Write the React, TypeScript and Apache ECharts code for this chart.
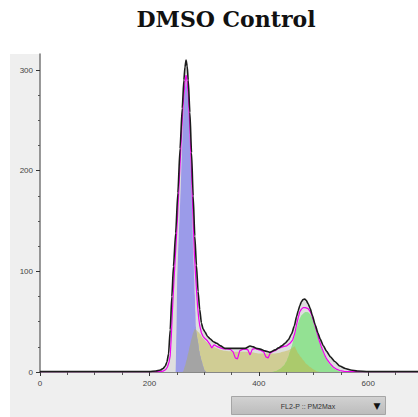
import React, { useEffect, useRef } from "react";
import * as echarts from "echarts";

// ---- data (channel, count) ----
const totalCounts: number[][] = [
  [0, 0.5], [200, 0.5], [212, 1], [220, 2], [225, 3.5], [229, 6], [232, 10], [235, 18], [238, 42], [241, 75],
  [244, 105], [248, 138], [252, 178], [256, 222], [260, 262], [263, 290], [265, 303], [267, 310], [269, 304],
  [271, 290], [274, 258], [277, 218], [280, 175], [283, 135], [286, 106], [289, 80], [292, 62], [295, 49],
  [298, 43], [302, 39.5], [306, 35.5], [311, 33], [317, 30], [323, 28.5], [330, 26], [338, 23.5], [347, 23.5],
  [356, 23.5], [366, 23.5], [375, 23.5], [384, 25.8], [390, 25], [396, 23.5], [404, 22.5], [411, 21], [420, 19.5],
  [430, 22], [436, 24], [442, 26], [448, 28.5], [454, 32], [460, 38], [465, 46], [469, 55], [472, 61], [475, 66],
  [478, 70], [481, 72], [484, 72.5], [487, 71], [490, 68], [494, 63], [498, 56], [503, 47], [508, 39], [512, 33],
  [518, 26], [524, 20.5], [531, 15], [539, 10.5], [548, 6], [558, 3.5], [568, 2], [580, 1], [600, 0.5], [691, 0.5],
];

const modelSum: number[][] = [
  [0, 0.3], [218, 0.3], [225, 0.8], [230, 2.5], [233, 5], [236, 10], [238, 16], [240, 35], [242, 60], [244, 82],
  [247, 111], [251, 150], [255, 195], [259, 240], [262, 268], [265, 288], [267, 295], [269, 289], [271, 276],
  [274, 242], [277, 198], [280, 150], [282, 120], [284, 100], [286, 82], [288, 66], [290, 54], [292, 46],
  [295, 39], [298, 35.5], [302, 33], [306, 31], [310, 28], [314, 24], [318, 27], [323, 25.5], [330, 24],
  [336, 23], [342, 23], [348, 22.5], [353, 20], [357, 14], [361, 13], [365, 21], [370, 22.5], [375, 23],
  [380, 22], [384, 17], [388, 22.5], [393, 23.5], [398, 22.5], [404, 21.5], [409, 20], [413, 15], [417, 14],
  [421, 19], [426, 20.5], [431, 21.5], [436, 23.5], [441, 24.5], [446, 25.5], [451, 26], [457, 28.5], [462, 32],
  [466, 39], [469, 47], [472, 54], [475, 60], [478, 62.5], [481, 64], [485, 64], [490, 63], [494, 60],
  [497, 56], [501, 49], [506, 40], [510, 32], [515, 24], [520, 17.5], [524, 13], [530, 8.5], [536, 5],
  [542, 2.8], [548, 1.5], [556, 0.6], [570, 0.3], [691, 0.3],
];

const g1Counts: number[][] = [
  [240, 0], [248, 0], [249.5, 40], [251, 95], [253, 125], [255, 150], [257, 178], [259, 210], [261, 240],
  [263, 265], [265, 282], [267, 288], [269, 283], [271, 268], [273, 245], [275, 215], [277, 180], [279, 140],
  [280, 120], [281, 106], [282, 92], [283, 77], [284, 60], [285, 45], [286, 39], [288, 32.5], [289, 29],
  [291, 21], [293, 16], [295.6, 11], [298, 6], [301, 1.5], [304, 0], [320, 0],
];

const sPhaseCounts: number[][] = [
  [258, 0], [262, 1], [265, 6], [268, 12], [271, 19], [274, 26], [277, 33], [280, 39], [283, 43], [286, 41.5],
  [290, 39.5], [293, 37.5], [297, 34], [302, 31], [307, 28.5], [311, 26.5], [314, 24], [317, 25], [323, 23.5],
  [330, 22], [336, 21], [347, 20.5], [358, 20], [369, 20], [380, 20], [390, 19.5], [399, 18.5], [410, 18.5],
  [420, 18.5], [430, 18.5], [440, 19.5], [448, 20.5], [454, 21.5], [459, 23], [463, 24.5], [466, 25.5],
  [468, 22.5], [472, 18.5], [477, 15], [481, 12], [487, 8], [494, 5], [500, 2.5], [507, 0.5], [512, 0], [520, 0],
];

const g2Counts: number[][] = [
  [425, 0], [432, 1], [440, 3.5], [446, 6.5], [450, 10], [454, 15], [457, 20], [460, 25.5], [463, 31],
  [466, 37], [469, 43.5], [472, 49], [475, 53.5], [478, 56.5], [481, 58], [485, 59.5], [489, 59.5], [492, 58.5],
  [497, 55], [501, 48], [506, 39], [510, 31], [515, 23], [520, 16.5], [524, 12], [530, 7.5], [536, 4],
  [542, 2], [548, 0.8], [555, 0], [560, 0],
];

const g1SOverlap: number[][] = [
  [261, 0], [262, 1], [265, 6], [268, 12], [271, 19], [274, 26], [277, 33], [280, 39], [283, 43], [284, 42.5],
  [285, 42], [286, 39], [288, 32.5], [289, 29], [291, 21], [293, 16], [295.6, 11], [298, 6], [301, 1.5], [304, 0],
];

const g2SOverlap: number[][] = [
  [425, 0], [432, 1], [440, 3.5], [446, 6.5], [450, 10], [454, 15], [457, 20], [459, 23], [463, 24.5],
  [466, 25.5], [468, 22.5], [472, 18.5], [477, 15], [481, 12], [487, 8], [494, 5], [500, 2.5], [507, 0.5], [512, 0],
];

const xMajorTicks = [0, 200, 400, 600];
const xMinorTicks = [50, 100, 150, 250, 300, 350, 450, 500, 550, 650];
const yMajorTicks = [0, 100, 200, 300];
const yMinorTicks = [25, 50, 75, 125, 150, 175, 225, 250, 275];

const X_MAX = 691;
const Y_MAX = 316;

const labelFont = { fontSize: 8, color: "#444", fontFamily: "Liberation Sans" };

function fillSeries(name: string, data: number[][], color: string, z: number, smooth: number | boolean) {
  return {
    name,
    type: "line",
    data,
    z,
    symbol: "none",
    smooth,
    smoothMonotone: "x",
    lineStyle: { width: 0, opacity: 0 },
    areaStyle: { color, opacity: 1 },
    silent: true,
  };
}

export default function App() {
  const ref = useRef<HTMLDivElement>(null);

  useEffect(() => {
    if (!ref.current) return;
    const chart = echarts.init(ref.current, null, { renderer: "svg" });
    const baseAxis = {
      type: "value",
      splitLine: { show: false },
      minorSplitLine: { show: false },
    };
    chart.setOption({
      animation: false,
      grid: { left: 40, top: 54, right: 0, bottom: 45, containLabel: false },
      xAxis: [
        {
          ...baseAxis,
          min: 0,
          max: X_MAX,
          axisLine: { show: true, onZero: false, lineStyle: { color: "#666", width: 1.5 } },
          axisTick: { show: true, length: 4, customValues: xMajorTicks, lineStyle: { color: "#333", width: 1 } },
          axisLabel: { ...labelFont, margin: 7, customValues: xMajorTicks },
        },
        {
          ...baseAxis,
          position: "bottom",
          min: 0,
          max: X_MAX,
          axisLine: { show: false },
          axisTick: { show: true, length: 3, customValues: xMinorTicks, lineStyle: { color: "#555", width: 1 } },
          axisLabel: { show: false },
        },
      ],
      yAxis: [
        {
          ...baseAxis,
          min: 0,
          max: Y_MAX,
          axisLine: { show: true, onZero: false, lineStyle: { color: "#777", width: 1.5 } },
          axisTick: { show: true, length: 4, customValues: yMajorTicks, lineStyle: { color: "#333", width: 1 } },
          axisLabel: { ...labelFont, margin: 7, customValues: yMajorTicks },
        },
        {
          ...baseAxis,
          position: "left",
          min: 0,
          max: Y_MAX,
          axisLine: { show: false },
          axisTick: { show: true, length: 2, customValues: yMinorTicks, lineStyle: { color: "#555", width: 1 } },
          axisLabel: { show: false },
        },
      ],
      series: [
        fillSeries("Total area", totalCounts, "#dedede", 1, 0.2),
        fillSeries("S phase", sPhaseCounts, "#d0cd94", 2, 0.2),
        fillSeries("G1", g1Counts, "#9b9be9", 3, 0.2),
        fillSeries("G2", g2Counts, "#93e193", 3, 0.2),
        fillSeries("G1/S", g1SOverlap, "#a4a4a4", 4, 0.2),
        fillSeries("G2/S", g2SOverlap, "#abca6c", 4, 0.2),
        {
          name: "Model",
          type: "line",
          data: modelSum,
          z: 5,
          symbol: "none",
          smooth: false,
          lineStyle: { color: "#ee00ee", width: 1.2 },
          silent: true,
        },
        {
          name: "Total",
          type: "line",
          data: totalCounts,
          z: 6,
          symbol: "none",
          smooth: 0.2,
          smoothMonotone: "x",
          lineStyle: { color: "#1c1c1c", width: 1.6 },
          silent: true,
        },
      ],
      graphic: [
        {
          type: "text",
          x: 226,
          y: 19,
          style: {
            text: "DMSO Control",
            font: 'bold 22px "DejaVu Serif"',
            fill: "#111",
            textAlign: "center",
            textVerticalAlign: "middle",
          },
        },
        {
          type: "rect",
          shape: { x: 231.5, y: 396.5, width: 154, height: 18 },
          style: {
            fill: new echarts.graphic.LinearGradient(0, 0, 0, 1, [
              { offset: 0, color: "#d2d2d2" },
              { offset: 1, color: "#bcbcbc" },
            ]),
            stroke: "#a5a5a5",
            lineWidth: 1,
          },
          z: 10,
        },
        {
          type: "text",
          x: 308,
          y: 406,
          style: {
            text: "FL2-P :: PM2Max",
            font: '7px "Liberation Sans"',
            fill: "#333",
            textAlign: "center",
            textVerticalAlign: "middle",
          },
          z: 11,
        },
        {
          type: "text",
          x: 377,
          y: 406,
          style: {
            text: "▼",
            font: '9px "DejaVu Sans"',
            fill: "#111",
            textAlign: "center",
            textVerticalAlign: "middle",
          },
          z: 11,
        },
      ],
    });
    return () => chart.dispose();
  }, []);

  return (
    <div style={{ position: "fixed", left: 0, top: 0, width: 418, height: 417, background: "#fff" }}>
      <div style={{ position: "absolute", left: 10, top: 54, width: 408, height: 363, background: "#efefef" }} />
      <div style={{ position: "absolute", left: 40, top: 54, width: 378, height: 318, background: "#fff" }} />
      <div ref={ref} style={{ position: "absolute", left: 0, top: 0, width: 418, height: 417 }} />
    </div>
  );
}
